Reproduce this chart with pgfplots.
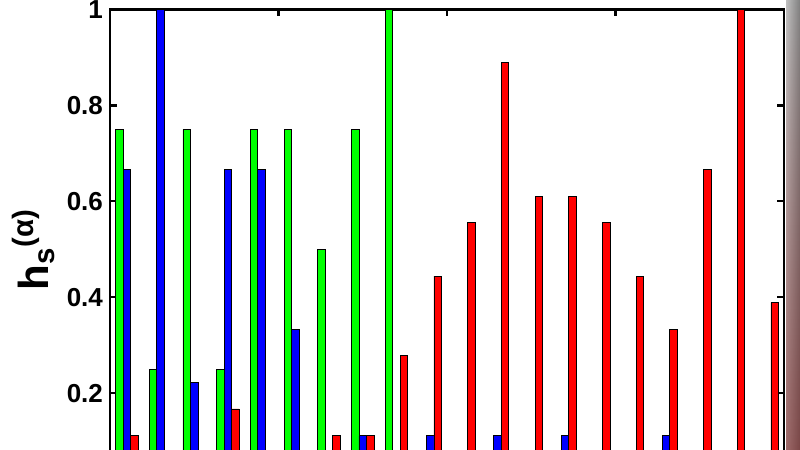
\documentclass[border=0pt]{standalone}
\usepackage{fontspec}
\setmainfont{Liberation Sans}
\usepackage{pgfplots}
\usepackage{pgfplotstable}
\pgfplotsset{compat=1.18}
\usetikzlibrary{fadings}
\tikzfading[name=vfade, top color=transparent!100, middle color=transparent!0, bottom color=transparent!100]

% h_s(alpha) per group, three series
\pgfplotstableread{
x y
1 0.750
2 0.250
3 0.750
4 0.250
5 0.750
6 0.750
7 0.500
8 0.750
9 1.000
10 0
11 0
12 0
13 0
14 0
15 0
16 0
17 0
18 0
19 0
20 0
}\greendata
\pgfplotstableread{
x y
1 0.667
2 1.000
3 0.222
4 0.667
5 0.667
6 0.333
7 0
8 0.111
9 0
10 0.111
11 0
12 0.111
13 0
14 0.111
15 0
16 0
17 0.111
18 0
19 0
20 0
}\bluedata
\pgfplotstableread{
x y
1 0.111
2 0
3 0
4 0.167
5 0
6 0
7 0.111
8 0.111
9 0.278
10 0.444
11 0.556
12 0.889
13 0.611
14 0.611
15 0.556
16 0.444
17 0.333
18 0.667
19 1.000
20 0.389
}\reddata

\begin{document}
\begin{tikzpicture}
\path[use as bounding box] (0pt,0pt) rectangle (400pt,225pt);
\clip (0pt,0pt) rectangle (400pt,225pt);
% slide shadows at the edges
\shade[left color=black!28, right color=white, path fading=vfade] (0pt,56pt) rectangle (7pt,148pt);
\shade[left color=black!25, right color=black!50] (393pt,0pt) rectangle (400pt,225pt);
\fill[red!45!black, opacity=0.45, path fading=north] (393pt,0pt) rectangle (400pt,225pt);
\begin{axis}[
    at={(55pt,-19.5pt)}, anchor=south west,
    width=337pt, height=239.75pt, scale only axis,
    xmin=0.5, xmax=20.5, ymin=0, ymax=1,
    xtick={5.5,10.5,15.5}, xticklabels={},
    ytick={0.2,0.4,0.6,0.8,1},
    tick align=inside,
    major tick length=3.5pt,
    axis line style={line width=1.2pt},
    every tick/.style={black, line width=1.2pt},
    tick label style={font=\bfseries\fontsize{13}{15}\selectfont},
    /pgf/number format/assume math mode=true,
    ylabel={\textbf{h\textsubscript{s}\textsuperscript{(α)}}},
    ylabel style={font=\fontsize{21}{24}\selectfont, at={(axis description cs:-0.114,0.5)}, anchor=center},
]
\addplot[ybar, bar width=0.223, bar shift=-0.223, fill=green, draw=black, line width=0.4pt] table {\greendata};
\addplot[ybar, bar width=0.223, bar shift=0, fill=blue, draw=black, line width=0.4pt] table {\bluedata};
\addplot[ybar, bar width=0.223, bar shift=0.223, fill=red, draw=black, line width=0.4pt] table {\reddata};
\end{axis}
\end{tikzpicture}
\end{document}
